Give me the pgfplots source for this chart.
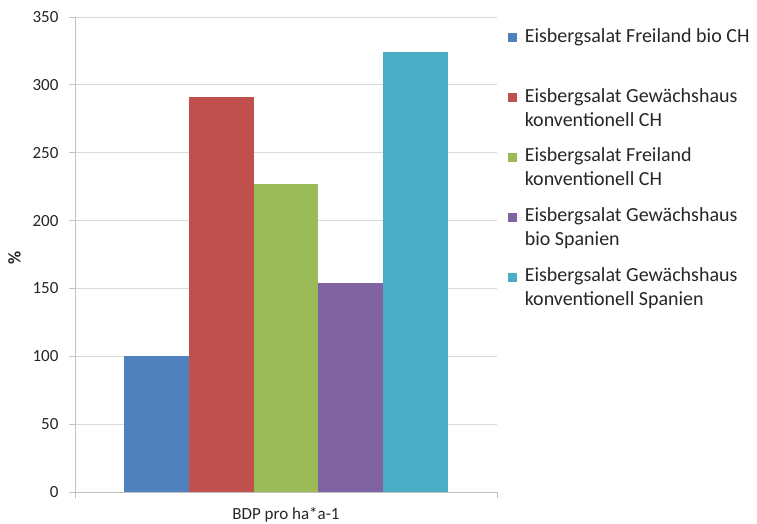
\documentclass[border=0pt]{standalone}
\usepackage{fontspec}
\setmainfont{Carlito}
\usepackage{pgfplots}
\pgfplotsset{compat=1.18}
\definecolor{cBlue}{HTML}{4F81BD}
\definecolor{cRed}{HTML}{C0504D}
\definecolor{cGreen}{HTML}{9BBB59}
\definecolor{cPurple}{HTML}{8064A2}
\definecolor{cCyan}{HTML}{4BACC6}
\definecolor{gridgray}{HTML}{D9D9D9}
\definecolor{axgray}{HTML}{BFBFBF}
\definecolor{txt}{HTML}{262626}
\begin{document}
\begin{tikzpicture}
\useasboundingbox (-75pt,-32pt) rectangle (682pt,492pt);
\begin{axis}[
  at={(0pt,0pt)}, anchor=south west,
  scale only axis, width=422pt, height=475pt,
  xmin=-3.25, xmax=3.25, ymin=0, ymax=350,
  ytick distance=50,
  xtick={0}, xticklabels={BDP pro ha*a-1},
  major tick length=6pt,
  extra x ticks={-3.25,3.25}, extra x tick labels={},
  extra x tick style={xtick style={draw=axgray, line width=0.8pt}},
  axis x line=bottom, axis y line=left,
  axis line style={-, axgray, line width=0.8pt},
  ymajorgrids, grid style={gridgray, line width=0.8pt},
  tick style={axgray, line width=0.8pt},
  tick align=outside,
  xtick style={draw=none},
  /pgf/number format/assume math mode=true,
  ticklabel style={font=\fontsize{17}{20}\selectfont, text=txt},
  yticklabel style={xshift=-7pt},
  xticklabel style={yshift=-6pt},
  ylabel={\textbf{\%}},
  ylabel style={font=\fontsize{18}{20}\selectfont, text=txt, yshift=5pt, xshift=-3pt},
  legend style={at={(1.018,0.985)}, anchor=north west, draw=none, fill=none,
    font=\fontsize{20}{24}\selectfont, text=txt, row sep=16.5pt,
    nodes={align=left}},
  legend cell align=left,
  legend image code/.code={\fill[#1] (0pt,6pt) rectangle (9pt,15pt); \path (9pt,10pt) -- (15pt,10pt);},
]
\addplot[ybar, bar width=1, bar shift=0pt, fill=cBlue, draw=none] coordinates {(-2,100)};
\addlegendentry{Eisbergsalat Freiland bio CH\\\mbox{}}
\addplot[ybar, bar width=1, bar shift=0pt, fill=cRed, draw=none] coordinates {(-1,291)};
\addlegendentry{Eisbergsalat Gewächshaus\\konventionell CH}
\addplot[ybar, bar width=1, bar shift=0pt, fill=cGreen, draw=none] coordinates {(0,227)};
\addlegendentry{Eisbergsalat Freiland\\konventionell CH}
\addplot[ybar, bar width=1, bar shift=0pt, fill=cPurple, draw=none] coordinates {(1,154)};
\addlegendentry{Eisbergsalat Gewächshaus\\bio Spanien}
\addplot[ybar, bar width=1, bar shift=0pt, fill=cCyan, draw=none] coordinates {(2,324)};
\addlegendentry{Eisbergsalat Gewächshaus\\konventionell Spanien}
\end{axis}
\end{tikzpicture}
\end{document}
